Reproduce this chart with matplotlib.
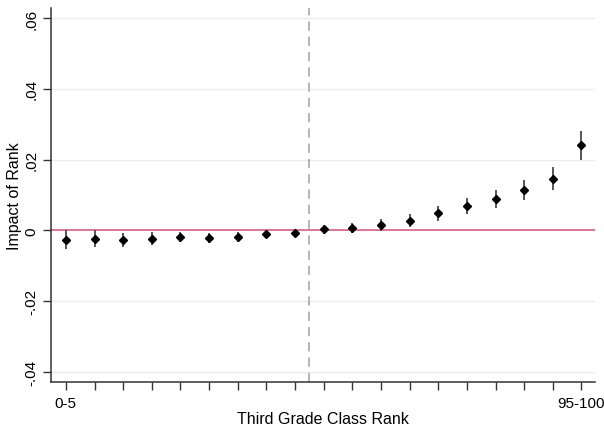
import matplotlib
matplotlib.use("Agg")
import matplotlib.pyplot as plt

plt.rcParams['font.family'] = ['Liberation Sans', 'DejaVu Sans']

# rank bins (median bin is the omitted reference)
bins = list(range(1, 20))
impact = [-0.0026, -0.0023, -0.0026, -0.0023, -0.0019, -0.0021, -0.0018, -0.0010, -0.0008,
          0.0003, 0.0008, 0.0015, 0.0027, 0.0048, 0.0068, 0.0088, 0.0114, 0.0146, 0.0240]
ci_half = [0.0027, 0.0023, 0.0020, 0.0018, 0.0015, 0.0015, 0.0014, 0.0010, 0.0011,
           0.0012, 0.0014, 0.0016, 0.0018, 0.0021, 0.0023, 0.0025, 0.0029, 0.0033, 0.0040]
xtick_labels = ['0-5'] + [''] * 17 + ['95-100']
yticks = [-0.04, -0.02, 0, 0.02, 0.04, 0.06]
ytick_labels = ['-.04', '-.02', '0', '.02', '.04', '.06']

fig = plt.figure(figsize=(6.04, 4.31), dpi=100)
ax = fig.add_axes([0.0844, 0.1114, 0.9006, 0.8676])

for yv in yticks:
    ax.axhline(yv, color='#ebebeb', lw=1, zorder=0)
ax.axhline(0, color='#d6547a', lw=1.1, zorder=1)
ax.axvline(9.5, color='#a0a0a0', lw=1.1, ls=(0, (6, 4)), zorder=1)

ax.errorbar(bins, impact, yerr=ci_half, fmt='D', color='black', ms=4.2,
            ecolor='#555555', elinewidth=1.4, capsize=0, zorder=3)

ax.set_xlim(0.48, 19.47)
ax.set_ylim(-0.0428, 0.0628)
ax.set_xticks(bins)
ax.set_xticklabels(xtick_labels)
ax.set_yticks(yticks)
ax.set_yticklabels(ytick_labels, rotation=90, va='center')

for s in ['top', 'right']:
    ax.spines[s].set_visible(False)
for s in ['left', 'bottom']:
    ax.spines[s].set_color('#333333')
    ax.spines[s].set_linewidth(1.1)
ax.tick_params(direction='out', length=6, width=1, color='#333333', labelsize=11, pad=4)
ax.tick_params(axis='y', pad=3)

ax.set_xlabel('Third Grade Class Rank', fontsize=11.5, labelpad=1)
ax.set_ylabel('Impact of Rank', fontsize=11.5, labelpad=2)

fig.savefig('out.png', dpi=100)
